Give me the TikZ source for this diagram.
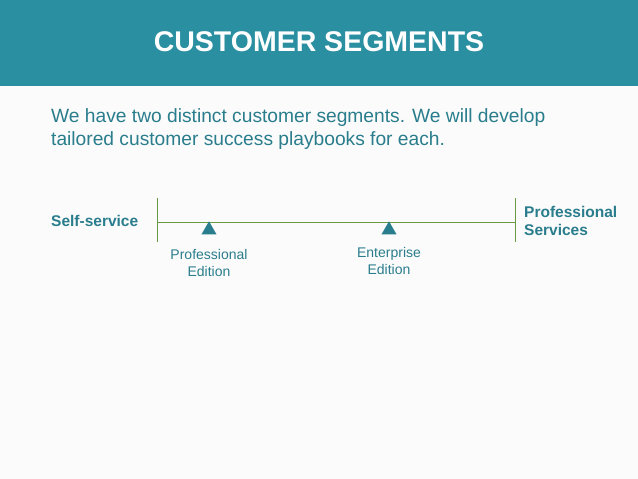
\documentclass[tikz,border=0pt]{standalone}
\usepackage{fontspec}
\setmainfont{Liberation Sans}
\usetikzlibrary{positioning,shapes.geometric}
\definecolor{headteal}{HTML}{2A8FA0}
\definecolor{textteal}{HTML}{2A7D8C}
\definecolor{linegreen}{HTML}{6A9A40}
\tikzset{
  marker/.style={isosceles triangle, shape border rotate=90, isosceles triangle apex angle=60,
    fill=textteal, inner sep=0pt, minimum height=13pt},
  edition/.style={text=textteal, font=\fontsize{14}{16.5}\selectfont, align=center},
  endlabel/.style={text=textteal, font=\fontsize{15.5}{18.5}\selectfont\bfseries, align=left}
}
\begin{document}
\begin{tikzpicture}[x=1pt,y=-1pt]
  \useasboundingbox (0,0) rectangle (638,479);
  \fill[white!97!gray] (0,0) rectangle (638,479);
  \fill[headteal] (0,0) rectangle (638,86);
  \node (title) at (319,42) {\textcolor{white}{\fontsize{28.5}{32}\selectfont\bfseries CUSTOMER SEGMENTS}};
  \node[anchor=north west, text=textteal, align=left, font=\fontsize{19.2}{23}\selectfont, inner sep=0pt]
    (intro) at (51,108) {We have two distinct customer segments. We will develop\\tailored customer success playbooks for each.};

  % scale line
  \coordinate (left) at (157,222);
  \coordinate (right) at (515,222);
  \draw[linegreen] (left) -- (right);
  \draw[linegreen] (157,198) -- (157,242);
  \draw[linegreen] (515,198) -- (515,242);

  \node[marker] (pro) at (209,230) {};
  \node[marker] (ent) at (389,230) {};
  \node[edition] (prolab) at (209,263) {Professional\\Edition};
  \node[edition] (entlab) at (389,261) {Enterprise\\Edition};

  \node[endlabel, anchor=west, inner sep=0pt] (self) at (51,221) {Self-service};
  \node[endlabel, anchor=west, inner sep=0pt] (prosvc) at (524,221) {Professional\\Services};
\end{tikzpicture}
\end{document}
